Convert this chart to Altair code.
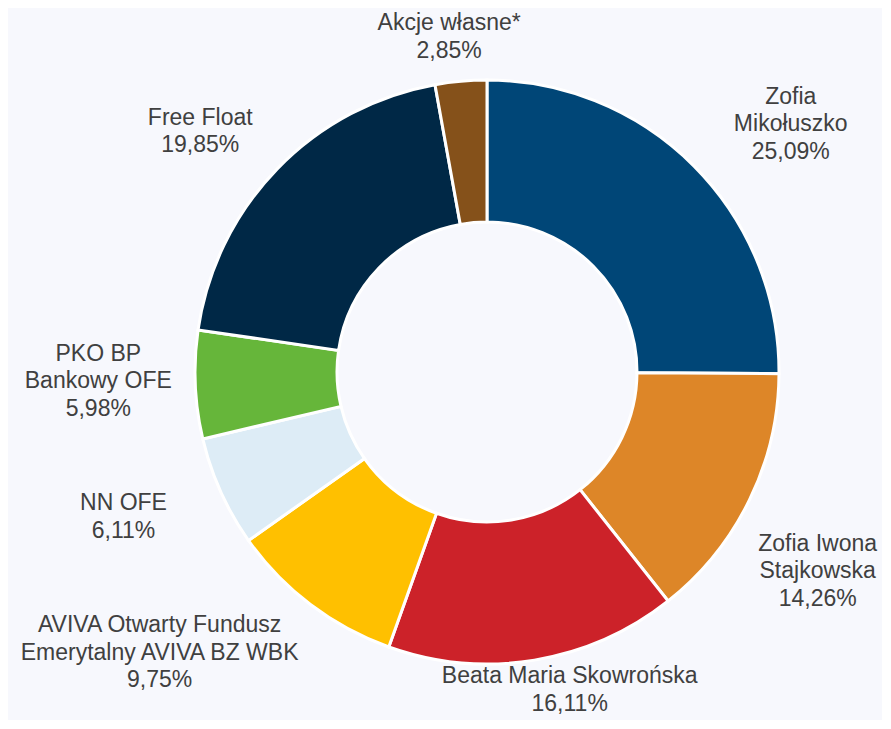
import altair as alt
import pandas as pd

# ---- data ----
categories = [
    "Zofia Mikołuszko",
    "Zofia Iwona Stajkowska",
    "Beata Maria Skowrońska",
    "AVIVA Otwarty Fundusz Emerytalny AVIVA BZ WBK",
    "NN OFE",
    "PKO BP Bankowy OFE",
    "Free Float",
    "Akcje własne*",
]
label_names = [
    "Zofia\nMikołuszko",
    "Zofia Iwona\nStajkowska",
    "Beata Maria Skowrońska",
    "AVIVA Otwarty Fundusz\nEmerytalny AVIVA BZ WBK",
    "NN OFE",
    "PKO BP\nBankowy OFE",
    "Free Float",
    "Akcje własne*",
]
values = [25.09, 14.26, 16.11, 9.75, 6.11, 5.98, 19.85, 2.85]
colors = ["#004677", "#DD8628", "#CC2229", "#FFC000", "#DDECF6", "#66B63A", "#002846", "#85511A"]

labels = [n + "\n" + f"{v:.2f}".replace(".", ",") + "%" for n, v in zip(label_names, values)]

df = pd.DataFrame({
    "idx": list(range(len(categories))),
    "category": categories,
    "value": values,
    "label": labels,
})

CX, CY = 479, 364
R_OUT, R_IN = 292, 150
LH = 27.5

theta_scale = alt.Scale(domain=[0, 100])

arcs = alt.Chart(df).mark_arc(
    innerRadius=R_IN, outerRadius=R_OUT, stroke="white", strokeWidth=3
).encode(
    theta=alt.Theta("value:Q", stack=True, scale=theta_scale),
    color=alt.Color("category:N", scale=alt.Scale(domain=categories, range=colors), legend=None),
    order=alt.Order("idx:Q"),
    x=alt.value(CX),
    y=alt.value(CY),
)

# label placement offsets (layout only): anchor just outside ring at slice middle
label_offsets = {
    "Zofia Mikołuszko": (91, -36),
    "Zofia Iwona Stajkowska": (61, 68),
    "Beata Maria Skowrońska": (34, 22),
    "AVIVA Otwarty Fundusz Emerytalny AVIVA BZ WBK": (-146, 42),
    "NN OFE": (-90, 22),
    "PKO BP Bankowy OFE": (-89, -4),
    "Free Float": (-71, -32),
    "Akcje własne*": (-11, -36),
}

layers = [arcs]
for cat, lab in zip(categories, labels):
    ddx, ddy = label_offsets[cat]
    nlines = lab.count("\n") + 1
    t = alt.Chart(df).transform_window(
        cum="sum(value)", sort=[alt.SortField("idx")], frame=[None, 0]
    ).transform_calculate(
        mid="datum.cum - datum.value / 2"
    ).transform_filter(
        alt.datum.category == cat
    ).mark_text(
        font="Liberation Sans", fontSize=23, color="#404040", lineBreak="\n",
        lineHeight=LH, align="center", baseline="middle",
        dx=ddx, dy=ddy - (nlines - 1) * LH / 2,
    ).encode(
        theta=alt.Theta("mid:Q", stack=None, scale=theta_scale),
        radius=alt.value(300),
        text="label:N",
        x=alt.value(CX),
        y=alt.value(CY),
    )
    layers.append(t)

chart = alt.layer(*layers).properties(
    width=874, height=712,
    autosize=alt.AutoSizeParams(type="none"),
    padding=0,
    background="#F7F8FD",
).configure_view(stroke=None)

chart.save("out.html", embed_options={"renderer": "svg", "actions": False})
